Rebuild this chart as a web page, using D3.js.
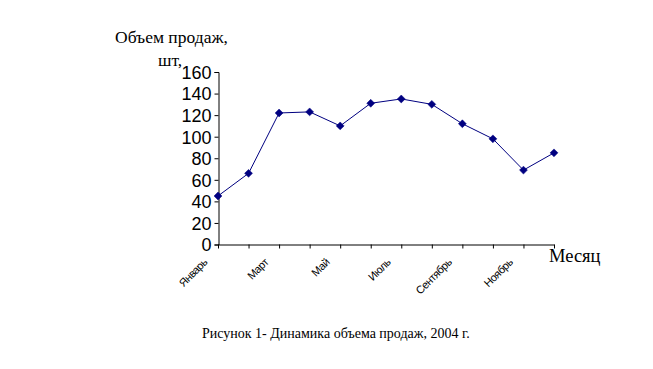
<!DOCTYPE html>
<html><head><meta charset="utf-8">
<script src="https://cdn.jsdelivr.net/npm/d3@7"></script>
<style>body{margin:0;background:#fff}</style>
</head><body>
<svg id="c" width="653" height="369"></svg>
<script>
const months = ["Январь","Февраль","Март","Апрель","Май","Июнь","Июль","Август","Сентябрь","Октябрь","Ноябрь","Декабрь"];
const sales = [45, 66, 122, 123, 110, 131, 135, 130, 112, 98, 69, 85];
const yTicks = [0, 20, 40, 60, 80, 100, 120, 140, 160];
const shownLabels = ["Январь","Март","Май","Июль","Сентябрь","Ноябрь"];

const svg = d3.select("#c");
const x = d3.scalePoint().domain(months).range([218, 554]);
const y = d3.scaleLinear().domain([0, 160]).range([244.5, 72]);
const navy = "#000080";

// y axis
const ya = svg.append("g").attr("transform", "translate(218.5,0)")
  .call(d3.axisLeft(y).tickValues(yTicks).tickSize(4).tickPadding(3));
ya.select(".domain").attr("stroke", "#000");
ya.selectAll(".tick line").attr("stroke", "#000");
ya.selectAll("text").attr("font-family", "Liberation Sans, Arial").attr("font-size", 18).attr("fill", "#000").attr("dy", "0.35em");

// x axis
const xa = svg.append("g").attr("transform", "translate(0,244.5)")
  .call(d3.axisBottom(x).tickSize(4).tickSizeOuter(0).tickFormat(""));
xa.select(".domain").attr("stroke", "#000");
xa.selectAll(".tick line").attr("stroke", "#000");

svg.append("g").selectAll("text").data(shownLabels).join("text")
  .attr("transform", d => `translate(${x(d) - 10},${263}) rotate(-45)`)
  .attr("text-anchor", "end")
  .attr("font-family", "Liberation Sans, Arial")
  .attr("font-size", 11)
  .attr("letter-spacing", "-0.5")
  .text(d => d);

// line
svg.append("path").datum(sales)
  .attr("fill", "none").attr("stroke", navy).attr("stroke-width", 1)
  .attr("d", d3.line().x((d, i) => x(months[i])).y(d => y(d)));

svg.append("g").selectAll("path").data(sales).join("path")
  .attr("d", d3.symbol(d3.symbolDiamond2, 40)())
  .attr("transform", (d, i) => `translate(${x(months[i])},${y(d)})`)
  .attr("fill", navy).attr("stroke", navy).attr("stroke-width", 0.5);

// titles
const serif = "Liberation Serif, Times New Roman, serif";
svg.append("text").attr("x", 115).attr("y", 43).attr("font-family", serif).attr("font-size", 17.5).text("Объем продаж,");
svg.append("text").attr("x", 158).attr("y", 66).attr("font-family", serif).attr("font-size", 17.5).text("шт,");
svg.append("text").attr("x", 549).attr("y", 262).attr("font-family", serif).attr("font-size", 18.5).text("Месяц");
svg.append("text").attr("x", 202).attr("y", 338).attr("font-family", serif).attr("font-size", 14).text("Рисунок 1- Динамика объема продаж, 2004 г.");
</script>
</body></html>
